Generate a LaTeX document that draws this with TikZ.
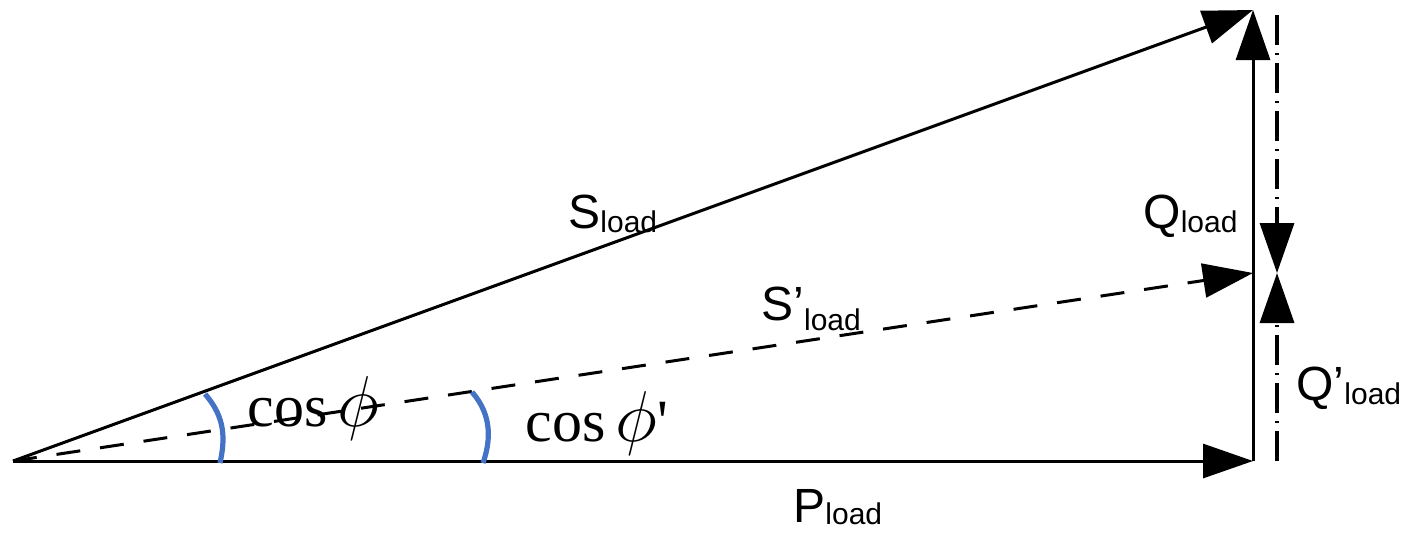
\RequirePackage{fix-cm}
\documentclass[tikz,border=0pt]{standalone}
\usepackage{fontspec}
\setmainfont{Liberation Sans}
\newfontfamily\tnr{Liberation Serif}
\usetikzlibrary{arrows.meta}
\definecolor{arcblue}{HTML}{4472C4}
\newcommand\lsub[1]{\raisebox{-2pt}{\fontsize{15}{15}\selectfont #1}}
\newcommand\bigphi{{\fontsize{36}{36}\selectfont$\phi$}}
\tikzset{
  vec/.style={line width=1.5pt, -{Triangle[length=25pt,width=17pt]}},
  dvec/.style={vec, dash pattern=on 12pt off 10pt},
  ddvec/.style={vec, line width=1.7pt, dash pattern=on 15pt off 4pt on 1pt off 4pt},
  anglearc/.style={arcblue, line width=2.6pt},
  lbl/.style={anchor=base west, inner sep=0pt, font=\fontsize{24}{24}\selectfont},
  cosl/.style={anchor=base west, inner sep=0pt, font=\tnr\fontsize{30}{30}\selectfont},
}
\begin{document}
\begin{tikzpicture}[x=0.5pt,y=-0.5pt]
\useasboundingbox (0,0) rectangle (1416,532);
\coordinate (O) at (13,461);
\coordinate (P) at (1253,461);
\coordinate (S) at (1253,10);
\coordinate (Sp) at (1253,273);
\coordinate (T) at (1277,15);
\coordinate (M) at (1277,273);
\coordinate (B) at (1277,461);
% vectors
\draw[vec] (O) -- (P);
\draw[vec] (O) -- (S);
\draw[vec] (P) -- (S);
\draw[dvec] (O) -- (Sp);
\draw[ddvec] (T) -- (M);
\draw[ddvec] (B) -- (M);
% angle arcs
\draw[anglearc] (205,394) .. controls (226,418) and (225,440) .. (220,463);
\draw[anglearc] (472,392) .. controls (492,415) and (491,440) .. (483,463);
% labels
\node[lbl] (lS) at (568,228) {S\lsub{load}};
\node[lbl] (lSp) at (761,320) {S’\raisebox{-3pt}{\lsub{load}}};
\node[lbl] (lQ) at (1143,228) {Q\lsub{load}};
\node[lbl] (lQp) at (1296,400) {Q’\lsub{load}};
\node[lbl] (lP) at (793,522) {P\raisebox{1pt}{\lsub{load}}};
\node[cosl] (c1) at (247,426) {cos\,\bigphi};
\node[cosl] (c2) at (525,441) {cos\,\bigphi\textquotesingle};
\end{tikzpicture}
\end{document}
